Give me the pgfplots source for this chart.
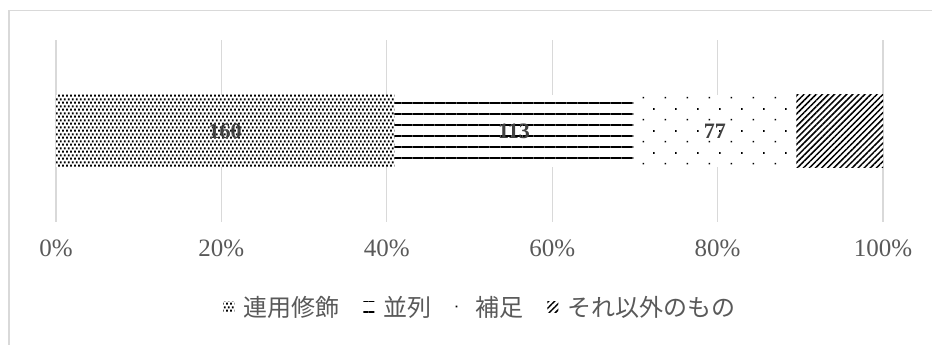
\documentclass[border=0pt]{standalone}
\usepackage{fontspec}
\setmainfont{Liberation Serif}
\newfontfamily\jp{Noto Sans CJK JP}
\usepackage{pgfplots}
\pgfplotsset{compat=1.18}
\usetikzlibrary{patterns,patterns.meta}

\definecolor{gridgray}{HTML}{D9D9D9}
\definecolor{labelgray}{HTML}{595959}
\definecolor{valgray}{HTML}{404040}

% fine staggered dot screen
\pgfdeclarepattern{
  name=densedots,
  type=uncolored,
  bottom left={\pgfpoint{0pt}{0pt}},
  top right={\pgfpoint{4.2pt}{6.6pt}},
  tile size={\pgfpoint{4.2pt}{6.6pt}},
  code={
    \pgfpathrectangle{\pgfpoint{0.0pt}{0.5pt}}{\pgfpoint{2.1pt}{2.1pt}}
    \pgfpathrectangle{\pgfpoint{2.1pt}{3.8pt}}{\pgfpoint{2.1pt}{2.1pt}}
    \pgfusepath{fill}
  }
}
% sparse staggered dots
\pgfdeclarepattern{
  name=sparsedots,
  type=uncolored,
  bottom left={\pgfpoint{0pt}{0pt}},
  top right={\pgfpoint{22pt}{22pt}},
  tile size={\pgfpoint{22pt}{22pt}},
  code={
    \pgfpathrectangle{\pgfpoint{4.7pt}{4.7pt}}{\pgfpoint{1.7pt}{1.7pt}}
    \pgfpathrectangle{\pgfpoint{15.7pt}{15.7pt}}{\pgfpoint{1.7pt}{1.7pt}}
    \pgfusepath{fill}
  }
}

\begin{document}
\begin{tikzpicture}
\begin{axis}[
  scale only axis,
  width=827pt, height=182pt,
  xbar stacked, bar width=72pt,
  xmin=0, xmax=391, ymin=-1, ymax=1,
  axis line style={draw=none},
  major tick style={draw=none},
  ytick=\empty,
  xtick={0,78.2,156.4,234.6,312.8,391},
  xticklabels={0\%,20\%,40\%,60\%,80\%,100\%},
  xmajorgrids,
  grid style={gridgray, line width=1.2pt},
  xticklabel style={font=\fontsize{25}{29}\selectfont, text=labelgray, yshift=-14pt},
  legend columns=4,
  legend cell align=left,
  legend style={draw=none, at={(0.513,-0.467)}, anchor=center,
    font=\jp\fontsize{24}{27}\selectfont, text=labelgray,
    /tikz/every even column/.append style={column sep=22pt}},
  legend image code/.code={%
    \draw[#1, draw=none] (0pt,-5.5pt) rectangle (11pt,5.5pt);
    \path (18pt,0pt);},
  nodes near coords={\bfseries\fontsize{22}{24}\selectfont\pgfmathprintnumber[assume math mode=true]{\pgfplotspointmeta}},
  every node near coord/.append style={text=valgray, anchor=center},
]
\addplot[draw=none, preaction={fill=white}, pattern=densedots, pattern color=black,
  point meta=\thisrow{v}]
  table[x=v, y=y] {
y v
0 160
};
\addplot[draw=none, preaction={fill=white},
  pattern={Lines[angle=0, distance=11pt, line width=1.5pt]}, pattern color=black,
  point meta=\thisrow{v}]
  table[x=v, y=y] {
y v
0 113
};
\addplot[draw=none, preaction={fill=white}, pattern=sparsedots, pattern color=black,
  point meta=\thisrow{v},
  legend image code/.code={%
    \fill[black] (4.6pt,-0.9pt) rectangle (6.4pt,0.9pt);
    \path (0pt,-5.5pt) rectangle (18pt,5.5pt);}]
  table[x=v, y=y] {
y v
0 77
};
\addplot[draw=none, preaction={fill=white},
  pattern={Lines[angle=45, distance=4.3pt, line width=1.5pt]}, pattern color=black,
  nodes near coords={}]
  table[x=v, y=y] {
y v
0 41
};
\legend{連用修飾,並列,補足,それ以外のもの}
\end{axis}
\draw[gridgray, line width=1.5pt] (-47pt,-130pt) -- (-47pt,211.5pt) -- (880pt,211.5pt);
\pgfresetboundingbox
\path[use as bounding box] (-56pt,-123pt) rectangle (876pt,222pt);
\end{tikzpicture}
\end{document}
